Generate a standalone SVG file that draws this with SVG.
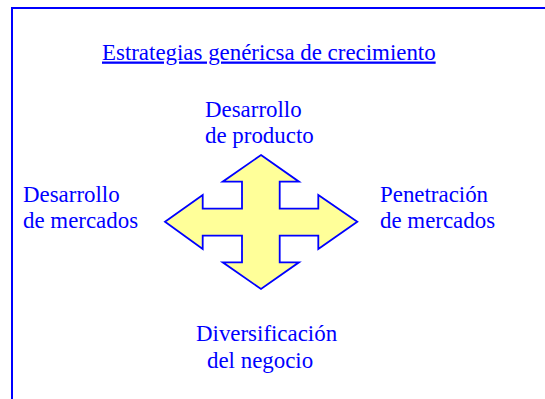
<svg xmlns="http://www.w3.org/2000/svg" width="545" height="399" viewBox="0 0 545 399">
<style>
text{font-family:"Liberation Serif","Times New Roman",serif;font-size:22.9px;fill:#0000FF}
.frame{fill:none;stroke:#0000FF;stroke-width:2}
.cross{fill:#FFFF99;stroke:#0000FF;stroke-width:1.8;stroke-linejoin:miter}
</style>
<rect width="545" height="399" fill="#FFFFFF"/>
<rect class="frame" x="12" y="8" width="560" height="420"/>
<g id="title">
<text x="102" y="59.5" text-decoration="underline">Estrategias genéricsa de crecimiento</text>
</g>
<g id="connectors">
<path class="cross" d="M261,155 L299,181.7 L279.7,181.7 L279.7,208.7 L318.3,208.7 L318.3,195 L357.3,221.7 L318.3,249 L318.3,235.7 L279.7,235.7 L279.7,262.3 L299,262.3 L261,289 L222.7,262.3 L242,262.3 L242,235.7 L202.7,235.7 L202.7,249 L165,221.7 L202.7,195 L202.7,208.7 L242,208.7 L242,181.7 L222.7,181.7 Z"/>
</g>
<g id="node-producto">
<text x="205" y="117">Desarrollo</text>
<text x="205" y="143">de producto</text>
</g>
<g id="node-mercados-izq">
<text x="23" y="202">Desarrollo</text>
<text x="23" y="228">de mercados</text>
</g>
<g id="node-penetracion">
<text x="380" y="202">Penetración</text>
<text x="380" y="228">de mercados</text>
</g>
<g id="node-diversificacion">
<text x="196" y="341">Diversificación</text>
<text x="207" y="368">del negocio</text>
</g>
</svg>
